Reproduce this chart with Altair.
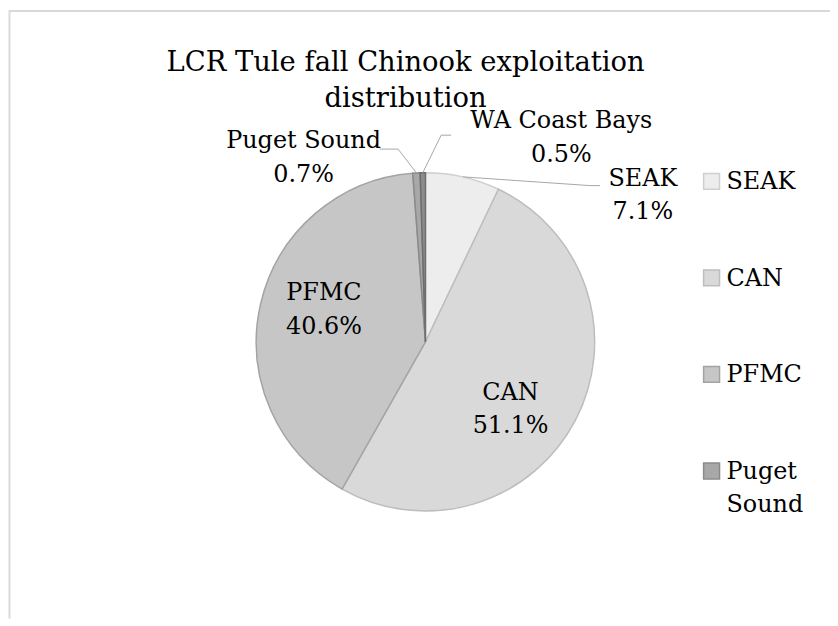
import math
import altair as alt
import pandas as pd

# ---- data ----
categories = ["SEAK", "CAN", "PFMC", "Puget Sound", "WA Coast Bays"]
shares = [7.1, 51.1, 40.6, 0.7, 0.5]
legend_labels = ["SEAK", "CAN", "PFMC", "Puget\nSound"]  # legend shows only 4 entries
title_text = "LCR Tule fall Chinook exploitation\ndistribution"

# ---- styles / layout ----
fills = ["#EDEDED", "#D9D9D9", "#C6C6C6", "#A8A8A8", "#8C8C8C"]
strokes = ["#CFCFCF", "#BDBDBD", "#A3A3A3", "#8A8A8A", "#6E6E6E"]
FONT = "DejaVu Serif"
W, H = 826, 612
CX, CY, R = 419.5, 334.0, 170.0
# label anchor (center x, first-line baseline y) per category
label_pos = {
    "SEAK": (638, 177),
    "CAN": (505, 392),
    "PFMC": (317.5, 292),
    "Puget Sound": (297, 139),
    "WA Coast Bays": (556, 119),
}
# leader line elbow and end points for outside labels
leader_pts = {
    "Puget Sound": [(392, 140.3), (373.7, 140.3)],
    "WA Coast Bays": [(435.3, 126.3), (445.3, 126.3)],
    "SEAK": [(585, 177), (595, 177)],
}

df = pd.DataFrame({"cat": categories, "value": shares, "idx": range(len(categories))})

color_scale = alt.Scale(domain=categories, range=fills)
stroke_scale = alt.Scale(domain=categories, range=strokes)

pie = alt.Chart(df).mark_arc(outerRadius=R, strokeWidth=1.5).encode(
    theta=alt.Theta("value:Q", stack=True),
    order=alt.Order("idx:Q"),
    color=alt.Color("cat:N", scale=color_scale, legend=None),
    stroke=alt.Stroke("cat:N", scale=stroke_scale, legend=None),
    x=alt.value(CX),
    y=alt.value(CY),
)

# label table
total = sum(shares)
lab_rows = []
for c, v in zip(categories, shares):
    lx, ly = label_pos[c]
    lab_rows.append({"cat": c, "text": f"{c}\n{v:.1f}%", "lx": lx, "ly": ly})
lab_df = pd.DataFrame(lab_rows)

labels = alt.Chart(lab_df).mark_text(
    font=FONT, fontSize=24, align="center", baseline="alphabetic",
    lineBreak="\n", lineHeight=34, color="#000000",
).encode(
    x=alt.X("lx:Q", scale=None),
    y=alt.Y("ly:Q", scale=None),
    text="text:N",
)

# leader lines: start on the arc at each slice's mid angle (from data)
lead_rows = []
cum = 0.0
for c, v in zip(categories, shares):
    mid = (cum + v / 2) / total * 2 * math.pi
    cum += v
    if c in leader_pts:
        pts = [(CX + R * math.sin(mid), CY - R * math.cos(mid))] + leader_pts[c]
        for k, (px, py) in enumerate(pts):
            lead_rows.append({"cat": c, "k": k, "px": px, "py": py})
lead_df = pd.DataFrame(lead_rows)

leaders = alt.Chart(lead_df).mark_line(color="#A6A6A6", strokeWidth=1).encode(
    x=alt.X("px:Q", scale=None),
    y=alt.Y("py:Q", scale=None),
    detail="cat:N",
    order="k:Q",
)

# manual legend
leg_df = pd.DataFrame({"cat": categories[:4], "label": legend_labels})
leg_y = alt.Scale(domain=categories[:4], range=[172.7, 463.7], padding=0)
leg_sq = alt.Chart(leg_df).mark_square(size=256, opacity=1, filled=True, strokeWidth=1.5).encode(
    x=alt.value(707),
    y=alt.Y("cat:N", scale=leg_y, axis=None),
    color=alt.Color("cat:N", scale=color_scale, legend=None),
    stroke=alt.Stroke("cat:N", scale=stroke_scale, legend=None),
)
leg_tx = alt.Chart(leg_df).mark_text(
    font=FONT, fontSize=24, align="left", baseline="alphabetic",
    lineBreak="\n", lineHeight=33, dy=8, color="#000000",
).encode(
    x=alt.value(722),
    y=alt.Y("cat:N", scale=leg_y, axis=None),
    text="label:N",
)

one = pd.DataFrame({"a": [0]})
title = alt.Chart(one).mark_text(
    font=FONT, fontSize=27.5, align="center", baseline="alphabetic",
    lineBreak="\n", lineHeight=36, color="#000000",
).encode(x=alt.value(399.5), y=alt.value(62), text=alt.value(title_text))

frame_top = alt.Chart(one).mark_rule(color="#D9D9D9", strokeWidth=2).encode(
    x=alt.value(1), x2=alt.value(W), y=alt.value(1.5)
)
frame_left = alt.Chart(one).mark_rule(color="#D9D9D9", strokeWidth=2).encode(
    x=alt.value(1.5), y=alt.value(1), y2=alt.value(H)
)

chart = alt.layer(
    frame_top, frame_left, pie, leaders, labels, leg_sq, leg_tx, title
).resolve_scale(
    x="independent", y="independent", color="shared", stroke="shared"
).properties(
    width=W, height=H, autosize=alt.AutoSizeParams(type="none"), padding=0,
    background="#FFFFFF",
).configure_view(stroke=None)

chart.save("out.html", embed_options={"renderer": "svg", "actions": False})
